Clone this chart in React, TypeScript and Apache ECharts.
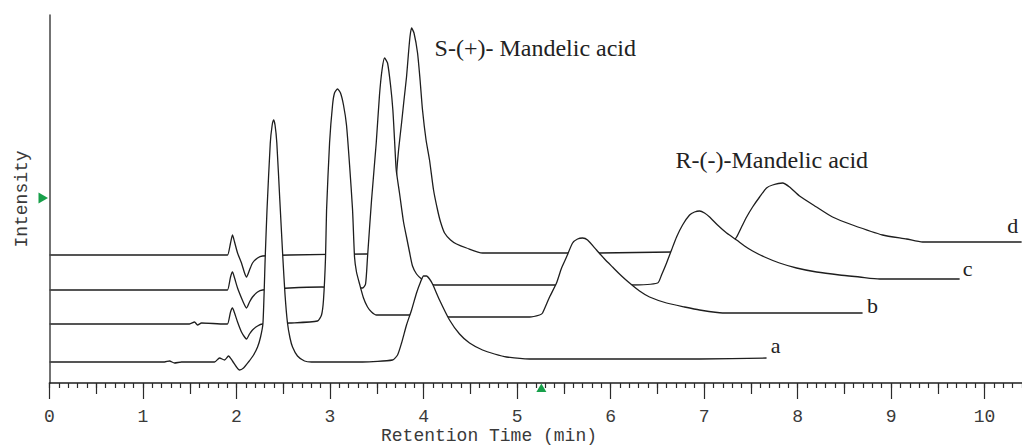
import React, { useEffect, useRef } from "react";
import * as echarts from "echarts";

// Retention time (min), intensity (arbitrary units)
const traceA: [number, number][] = [
  [0, 21], [1.23, 21], [1.283, 22], [1.337, 20], [1.412, 21], [1.765, 21], [1.818, 25], [1.872, 23],
  [1.914, 27], [1.957, 22], [2.0, 16], [2.032, 13], [2.075, 15], [2.128, 21], [2.182, 28], [2.225, 36],
  [2.257, 46], [2.283, 60], [2.307, 126], [2.326, 173], [2.361, 240], [2.38, 257], [2.396, 263],
  [2.412, 258], [2.431, 240], [2.463, 183], [2.495, 126], [2.519, 88], [2.545, 60], [2.572, 45],
  [2.599, 36], [2.652, 27], [2.727, 22], [2.802, 21], [3.348, 21], [3.668, 23], [3.722, 28],
  [3.765, 40], [3.818, 58], [3.872, 73], [3.925, 90], [3.968, 101], [4.0, 107], [4.032, 107],
  [4.064, 104], [4.096, 99], [4.171, 83], [4.278, 63], [4.385, 49], [4.492, 40], [4.631, 33],
  [4.759, 29], [4.888, 26], [5.134, 24], [5.882, 24], [6.952, 24], [7.668, 25],
];

const traceB: [number, number][] = [
  [0, 59], [1.497, 59], [1.551, 61], [1.583, 58], [1.626, 60], [1.872, 59], [1.904, 59], [1.936, 71],
  [1.957, 75], [1.979, 70], [2.011, 61], [2.053, 51], [2.086, 46], [2.107, 44], [2.139, 49],
  [2.171, 53], [2.225, 57], [2.278, 59], [2.567, 60], [2.866, 62], [2.909, 68], [2.93, 83],
  [2.952, 126], [2.963, 173], [2.995, 240], [3.027, 278], [3.048, 290], [3.08, 294], [3.112, 290],
  [3.144, 278], [3.176, 258], [3.209, 218], [3.241, 173], [3.262, 126], [3.283, 111], [3.316, 99],
  [3.358, 85], [3.401, 76], [3.444, 71], [3.497, 68], [3.85, 68], [4.1, 67], [4.278, 66],
  [5.134, 66], [5.241, 68], [5.273, 70], [5.348, 86], [5.422, 100], [5.476, 115], [5.529, 126],
  [5.594, 140], [5.647, 144], [5.701, 145], [5.754, 143], [5.85, 133], [5.936, 124], [6.021, 116],
  [6.118, 107], [6.203, 100], [6.31, 92], [6.417, 86], [6.599, 80], [6.791, 76], [6.952, 73],
  [7.198, 70], [8.695, 70],
];

const traceC: [number, number][] = [
  [0, 93], [1.872, 93], [1.904, 93], [1.936, 106], [1.957, 111], [1.979, 105], [2.011, 95],
  [2.053, 85], [2.086, 78], [2.107, 75], [2.139, 81], [2.171, 86], [2.225, 91], [2.278, 93],
  [2.567, 95], [2.909, 96], [3.348, 95], [3.38, 99], [3.401, 126], [3.444, 183], [3.494, 240],
  [3.529, 288], [3.556, 313], [3.583, 325], [3.615, 320], [3.647, 298], [3.672, 273], [3.69, 243],
  [3.708, 213], [3.743, 190], [3.786, 161], [3.818, 146], [3.85, 131], [3.882, 117], [3.925, 109],
  [3.979, 104], [4.043, 100], [4.118, 98], [5.401, 98], [5.775, 99], [6.203, 98], [6.503, 100],
  [6.545, 108], [6.599, 120], [6.652, 133], [6.706, 146], [6.77, 158], [6.845, 168], [6.898, 171],
  [6.952, 172], [7.005, 170], [7.059, 166], [7.144, 158], [7.241, 150], [7.348, 143], [7.433, 137],
  [7.519, 132], [7.647, 126], [7.807, 120], [7.989, 115], [8.203, 111], [8.449, 108], [8.663, 106],
  [8.877, 104], [9.733, 104],
];

const traceD: [number, number][] = [
  [0, 128], [1.872, 128], [1.904, 128], [1.936, 140], [1.957, 148], [1.979, 141], [2.011, 130],
  [2.053, 120], [2.086, 110], [2.107, 106], [2.139, 113], [2.171, 120], [2.225, 125], [2.278, 127],
  [2.567, 128], [3.39, 129], [3.636, 129], [3.679, 153], [3.711, 208], [3.733, 233], [3.765, 260],
  [3.791, 283], [3.818, 306], [3.84, 331], [3.856, 347], [3.872, 355], [3.898, 350], [3.936, 330],
  [3.963, 303], [3.989, 273], [4.027, 243], [4.064, 223], [4.107, 193], [4.15, 173], [4.182, 161],
  [4.225, 150], [4.289, 143], [4.353, 139], [4.46, 135], [4.631, 130], [5.882, 130], [6.663, 131],
  [7.112, 131], [7.219, 133], [7.283, 138], [7.348, 146], [7.401, 156], [7.455, 166], [7.519, 176],
  [7.594, 186], [7.668, 195], [7.733, 198], [7.84, 200], [7.914, 196], [8.021, 187], [8.203, 176],
  [8.374, 166], [8.588, 158], [8.909, 148], [9.166, 144], [9.337, 141], [10.396, 141],
];

const traceNames = ["a", "b", "c", "d"];
const majorTicks = [0, 1, 2, 3, 4, 5, 6, 7, 8, 9, 10];
const midTicks = [0.5, 1.5, 2.5, 3.5, 4.5, 5.5, 6.5, 7.5, 8.5, 9.5];
const X_MIN = 0;
const X_MAX = 10.4;
const Y_MAX = 368;

const xTitle = "Retention Time (min)";
const yTitle = "Intensity";
const peakLabels = ["S-(+)- Mandelic acid", "R-(-)-Mandelic acid"];
const peakLabelAnchors: [number, number][] = [[4.118, 335], [6.695, 223]];
const traceLabelAnchors: [number, number][] = [[7.765, 38], [8.802, 78], [9.818, 115], [10.3, 158]];
const markerTime = 5.26;
const markerLevel = 185;

export default function App() {
  const ref = useRef<HTMLDivElement>(null);

  useEffect(() => {
    if (!ref.current) return;
    const chart = echarts.init(ref.current, null, { renderer: "svg" });
    const traces = [traceD, traceC, traceB, traceA];
    const names = ["d", "c", "b", "a"];
    const lineColor = "#1e1e1e";

    const series = traces.map((data, i) => ({
      type: "line",
      name: names[i],
      data,
      xAxisIndex: 0,
      yAxisIndex: 0,
      symbol: "none",
      showSymbol: false,
      smooth: 0.2,
      silent: true,
      z: 2 + i,
      lineStyle: { color: lineColor, width: 1.3 },
      areaStyle: { color: "#ffffff", opacity: 1 },
    }));

    const tickStyle = { color: "#2a2a2a", width: 1.2 };
    const baseAxis = {
      type: "value",
      min: X_MIN,
      max: X_MAX,
      position: "bottom",
      gridIndex: 0,
      splitLine: { show: false },
      z: 10,
    };

    chart.setOption({
      animation: false,
      backgroundColor: "#ffffff",
      grid: { left: 49.5, right: 0, top: 15, bottom: 63 },
      xAxis: [
        {
          ...baseAxis,
          interval: 1,
          axisLine: { show: true, lineStyle: { color: "#1e1e1e", width: 1.6 } },
          axisTick: { show: true, length: 16, lineStyle: tickStyle, customValues: majorTicks },
          axisLabel: {
            show: true,
            margin: 27,
            fontFamily: "Liberation Mono",
            fontSize: 18,
            lineHeight: 14,
            color: "#3a3a3a",
            customValues: majorTicks,
            formatter: (v: number) => (Number.isInteger(v) ? String(v) : ""),
          },
        },
        {
          ...baseAxis,
          interval: 0.5,
          axisLine: { show: false },
          axisTick: { show: true, length: 11, lineStyle: tickStyle, customValues: midTicks },
          axisLabel: { show: false },
        },
        {
          ...baseAxis,
          interval: 0.1,
          axisLine: { show: false },
          axisTick: { show: true, length: 5, lineStyle: tickStyle },
          axisLabel: { show: false },
        },
      ],
      yAxis: {
        type: "value",
        min: 0,
        max: Y_MAX,
        z: 10,
        axisLine: { show: true, lineStyle: { color: "#444444", width: 1.5 } },
        axisTick: { show: false },
        axisLabel: { show: false },
        splitLine: { show: false },
      },
      series,
    });

    const toPx = (p: [number, number]) =>
      chart.convertToPixel({ seriesIndex: 3 }, p) as unknown as number[];

    const graphics: any[] = [];
    const origin = toPx([X_MIN, 0]);
    const top = toPx([X_MIN, Y_MAX]);
    graphics.push({
      type: "text",
      x: origin[0] - 28,
      y: (origin[1] + top[1]) / 2,
      rotation: Math.PI / 2,
      z: 20,
      style: {
        text: yTitle,
        fontFamily: "Liberation Mono",
        fontSize: 18,
        lineHeight: 14,
        fill: "#3a3a3a",
        align: "center",
        verticalAlign: "middle",
      },
    });
    const xTitlePos = toPx([4.7, 0]);
    graphics.push({
      type: "text",
      x: xTitlePos[0],
      y: origin[1] + 53,
      z: 20,
      style: {
        text: xTitle,
        fontFamily: "Liberation Mono",
        fontSize: 18,
        lineHeight: 14,
        fill: "#3a3a3a",
        align: "center",
        verticalAlign: "middle",
      },
    });
    peakLabels.forEach((t, i) => {
      const p = toPx(peakLabelAnchors[i]);
      graphics.push({
        type: "text",
        x: p[0],
        y: p[1],
        z: 20,
        style: {
          text: t,
          fontFamily: "Liberation Serif",
          fontSize: 24,
          fill: "#222222",
          align: "left",
          verticalAlign: "middle",
        },
      });
    });
    traceNames.forEach((t, i) => {
      const p = toPx(traceLabelAnchors[i]);
      graphics.push({
        type: "text",
        x: p[0],
        y: p[1],
        z: 20,
        style: {
          text: t,
          fontFamily: "Liberation Serif",
          fontSize: 22,
          fill: "#222222",
          align: "center",
          verticalAlign: "middle",
        },
      });
    });
    const mLeft = toPx([X_MIN, markerLevel]);
    const mBottom = toPx([markerTime, 0]);
    const green = "#17a04a";
    graphics.push({
      type: "polygon",
      shape: {
        points: [
          [mLeft[0] - 11, mLeft[1] - 5.5],
          [mLeft[0] - 11, mLeft[1] + 5.5],
          [mLeft[0] - 1.5, mLeft[1]],
        ],
      },
      style: { fill: green },
      z: 20,
    });
    graphics.push({
      type: "polygon",
      shape: {
        points: [
          [mBottom[0] - 5, mBottom[1] + 9],
          [mBottom[0] + 5, mBottom[1] + 9],
          [mBottom[0], mBottom[1] + 0.5],
        ],
      },
      style: { fill: green },
      z: 20,
    });

    chart.setOption({ graphic: graphics });

    return () => chart.dispose();
  }, []);

  return (
    <div
      ref={ref}
      style={{ position: "absolute", left: 0, top: 0, width: 1022, height: 446, background: "#fff" }}
    />
  );
}
